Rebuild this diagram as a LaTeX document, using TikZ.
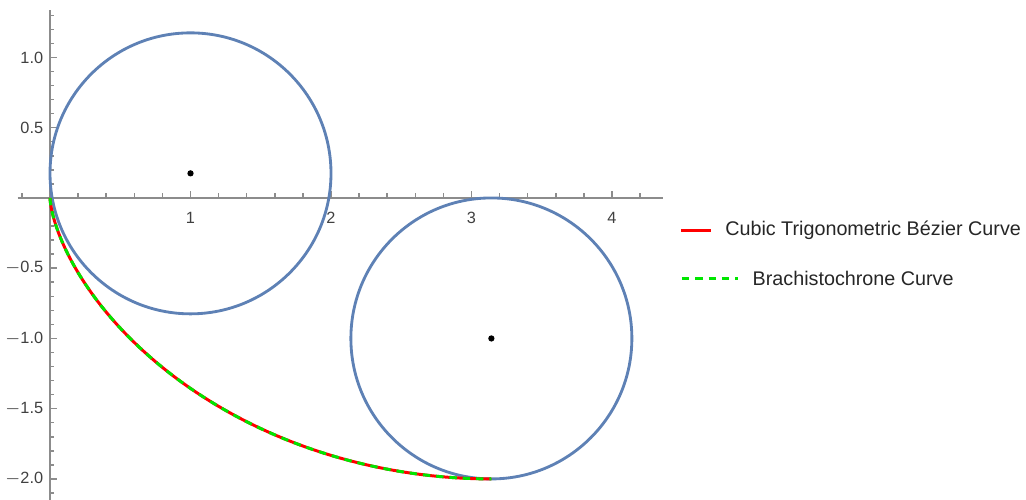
\documentclass[tikz,border=0pt]{standalone}
\usepackage{fontspec}
\setmainfont{Liberation Sans}
\usetikzlibrary{positioning,calc}

\definecolor{circleblue}{RGB}{94,129,181}
\definecolor{axisgray}{gray}{0.55}
\definecolor{labelgray}{gray}{0.25}
\definecolor{bgreen}{RGB}{0,230,0}

\begin{document}
\begin{tikzpicture}[
    x=2cm, y=2cm,
    axis_line/.style={axisgray,line width=0.6pt},
    tick_label/.style={labelgray,font=\fontsize{6.6}{7}\selectfont,inner sep=1pt},
    circle_line/.style={circleblue,line width=1.15pt},
    center_point/.style={circle,fill,inner sep=0.9pt},
    bezier_line/.style={red,line width=1.2pt},
    brach_line/.style={bgreen,line width=1.2pt,dash pattern=on 3pt off 2.4pt},
    legend_text/.style={black!85,font=\fontsize{8}{9}\selectfont,inner sep=0pt,anchor=west}
]
\useasboundingbox (-0.356,-2.149) rectangle (6.947,1.409);

% Axes
\draw[axis_line] (-0.23,0) -- (4.36,0);
\draw[axis_line] (0,-2.2) -- (0,1.34);

% x-ticks: major every 1, minor every 0.2
\foreach \i in {-0.2,0.2,0.4,...,4.3}
    \draw[axis_line] (\i,0) -- ++(0,1.8pt);
\foreach \i in {1,2,3,4}
    \draw[axis_line] (\i,0) -- ++(0,2.9pt) node[tick_label,pos=0,below=4.5pt] {\i};

% y-ticks: major every 0.5, minor every 0.1
\foreach \y in {-2.1,-2.0,...,1.35}
    \draw[axis_line] (0,\y) -- ++(1.8pt,0);
\foreach \y/\label in {-2/{$-$2.0},-1.5/{$-$1.5},-1/{$-$1.0},-0.5/{$-$0.5},0.5/0.5,1/1.0}
    \draw[axis_line] (0,\y) -- ++(2.9pt,0) node[tick_label,pos=0,left=1.5pt] {\label};

% Circles and their centres
\draw[circle_line] (1,0.175) circle (1);
\node[center_point] (c1) at (1,0.175) {};
\draw[circle_line] (pi,-1) circle (1);
\node[center_point] (c2) at (pi,-1) {};

% Curves: trigonometric Bezier (red) and cycloid (green, dashed)
\draw[bezier_line] plot[variable=\t,domain=0:pi,samples=120,smooth] ({\t-sin(\t r)},{cos(\t r)-1});
\draw[brach_line] plot[variable=\t,domain=0:pi,samples=120,smooth] ({\t-sin(\t r)},{cos(\t r)-1});

% Legend
\coordinate (l1) at (4.49,-0.232);
\draw[bezier_line] (l1) -- ++(0.213,0) coordinate (l1e);
\node[legend_text,right=0.2cm of l1e] (t1) {Cubic Trigonometric Bézier Curve};
\coordinate (l2) at (4.498,-0.575);
\draw[brach_line] (l2) -- ++(0.4,0) coordinate (l2e);
\node[legend_text,right=0.2cm of l2e] (t2) {Brachistochrone Curve};

\end{tikzpicture}
\end{document}
